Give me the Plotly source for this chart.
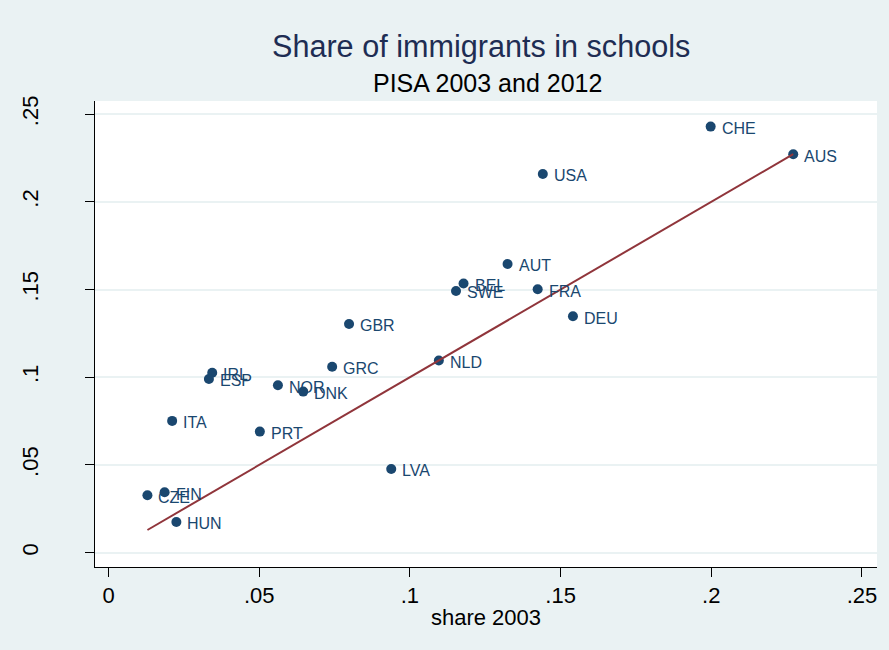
import plotly.graph_objects as go

# Share of immigrant students by country, PISA 2003 vs 2012
countries = ["IRL", "ESP", "GRC", "NOR", "DNK", "ITA", "PRT", "LVA", "CZE", "FIN", "HUN",
             "AUT", "BEL", "SWE", "FRA", "DEU", "NLD", "CHE", "AUS", "USA", "GBR"]
share_2003 = [0.0344, 0.0333, 0.0742, 0.0562, 0.0646, 0.0211, 0.0502, 0.0938, 0.0129, 0.0186, 0.0225,
              0.1324, 0.1178, 0.1153, 0.1424, 0.1541, 0.1096, 0.1998, 0.2272, 0.1441, 0.0798]
share_2012 = [0.1026, 0.0990, 0.1060, 0.0954, 0.0918, 0.0751, 0.0690, 0.0477, 0.0327, 0.0344, 0.0175,
              0.1646, 0.1534, 0.1492, 0.1502, 0.1348, 0.1095, 0.2429, 0.2271, 0.2159, 0.1304]

tick_vals = [0, 0.05, 0.1, 0.15, 0.2, 0.25]
tick_text = ["0", ".05", ".1", ".15", ".2", ".25"]

NAVY = "#1A476F"
MAROON = "#90353B"
BG = "#EAF2F3"
FONT = "Liberation Sans, Arial, sans-serif"

fig = go.Figure()

fig.add_trace(go.Scatter(
    x=share_2003, y=share_2012, mode="markers",
    marker=dict(size=10, color=NAVY, line=dict(width=0)),
    hoverinfo="text", text=countries, showlegend=False,
))

# 45-degree reference line spanning the observed 2003 range
lo, hi = min(share_2003), max(share_2003)
fig.add_trace(go.Scatter(
    x=[lo, hi], y=[lo, hi], mode="lines",
    line=dict(color=MAROON, width=2), showlegend=False, hoverinfo="skip",
))

annotations = []
for c, x, y in zip(countries, share_2003, share_2012):
    annotations.append(dict(
        x=x, y=y, xref="x", yref="y", text=c, showarrow=False,
        xanchor="left", yanchor="middle", xshift=9, yshift=-2,
        font=dict(family=FONT, size=16, color=NAVY),
    ))

annotations.append(dict(
    x=0.5, y=1.1159, xref="paper", yref="paper", text="Share of immigrants in schools",
    showarrow=False, xanchor="center", yanchor="middle", xshift=-5,
    font=dict(family=FONT, size=30.6, color="#1E2D53"),
))
annotations.append(dict(
    x=0.5, y=1.0386, xref="paper", yref="paper", text="PISA 2003 and 2012",
    showarrow=False, xanchor="center", yanchor="middle", xshift=1,
    font=dict(family=FONT, size=25, color="#000000"),
))

fig.update_layout(
    width=889, height=650,
    margin=dict(l=95, r=12, t=101, b=83),
    paper_bgcolor=BG, plot_bgcolor="white",
    font=dict(family=FONT, color="#000000"),
    annotations=annotations,
    xaxis=dict(
        range=[-0.0045, 0.255], tickvals=tick_vals, ticktext=tick_text,
        showgrid=False, zeroline=False, showline=True, linecolor="#000000", linewidth=1,
        ticks="outside", ticklen=9, tickcolor="#000000", tickwidth=1,
        tickfont=dict(family=FONT, size=22, color="#000000"),
        title=dict(text="share 2003", font=dict(family=FONT, size=22, color="#000000"), standoff=2),
    ),
    yaxis=dict(
        range=[-0.0082, 0.2575], tickvals=tick_vals, ticktext=tick_text,
        showgrid=True, gridcolor=BG, gridwidth=2, zeroline=False,
        showline=True, linecolor="#000000", linewidth=1,
        ticks="outside", ticklen=9, tickcolor="#000000", tickwidth=1, tickangle=-90,
        tickfont=dict(family=FONT, size=22, color="#000000"),
        ticklabelstandoff=38,
    ),
)

fig.write_html("out.html")
